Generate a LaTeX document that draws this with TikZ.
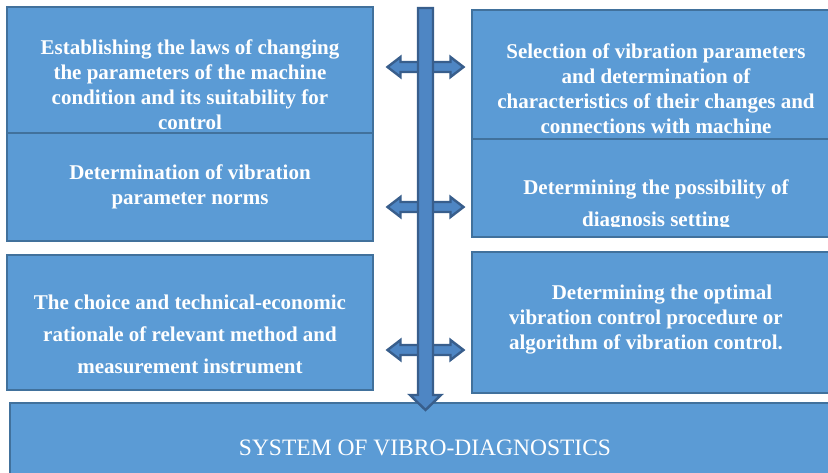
\documentclass[tikz,border=0pt]{standalone}
\usepackage{fontspec}
\setmainfont{Liberation Serif}
\definecolor{boxfill}{HTML}{5B9BD5}
\definecolor{boxline}{HTML}{41719C}
\definecolor{arrfill}{HTML}{4E86C4}
\definecolor{arrline}{HTML}{385E8C}
\begin{document}
\begin{tikzpicture}[x=1pt,y=-1pt,
  box/.style={draw=boxline, fill=boxfill, line width=2pt, inner sep=0pt,
    minimum width=#1, minimum height=0pt},
  boxL/.style={box, minimum width=366pt},
  boxR/.style={box, minimum width=368pt},
  label/.style={text=white, font=\bfseries\fontsize{21}{25}\selectfont, align=center, inner sep=0pt},
  wide/.style={label, font=\bfseries\fontsize{21}{32}\selectfont},
  blockarrow/.style={fill=arrfill, draw=arrline, line width=2.4pt, line join=miter},
  dblarr/.pic={
    \path[blockarrow] (-38,0) -- (-25,-10) -- (-25,-5) -- (25,-5) -- (25,-10)
      -- (38,0) -- (25,10) -- (25,5) -- (-25,5) -- (-25,10) -- cycle;
  }]
\useasboundingbox (0,0) rectangle (828,472);
\begin{scope}
\clip (0,0) rectangle (828,472);
% left column
\node[boxL, minimum height=126pt] (L1) at (190,70) {};
\node[boxL, minimum height=108pt] (L2) at (190,187) {};
\node[boxL, minimum height=135pt] (L3) at (190,322.5) {};
% right column
\node[boxR, minimum height=129pt] (R1) at (656,74.5) {};
\node[boxR, minimum height=98pt]  (R2) at (656,188) {};
\node[boxR, minimum height=141pt] (R3) at (656,322.5) {};
% result
\node[box, minimum width=830pt, minimum height=77pt] (S) at (425,441.5) {};
\end{scope}

% links between the columns
\coordinate (a1) at (425.5,67);
\coordinate (a2) at (425.5,207);
\coordinate (a3) at (425.5,350);
\pic at (a1) {dblarr};
\pic at (a2) {dblarr};
\pic at (a3) {dblarr};

% main flow down to the system
\path[blockarrow] (418,8) -- (433,8) -- (433,395) -- (441,395) -- (425.5,410)
  -- (410,395) -- (418,395) -- cycle;

% texts
\node[label] (t1) at (190,84.5) {Establishing the laws of changing\\the parameters of the machine\\condition and its suitability for\\control};
\node[label] (t2) at (190,187) {Determination of vibration\\parameter norms};
\node[wide] (t3) at (190,334.5) {The choice and technical-economic\\rationale of relevant method and\\measurement instrument};
\node[label] (t4) at (656,88.5) {Selection of vibration parameters\\and determination of\\characteristics of their changes and\\connections with machine};
\begin{scope}
\clip (472,139) rectangle (828,226);
\node[wide] (t5) at (656,205.5) {Determining the possibility of\\diagnosis setting};
\end{scope}
\node[label] (t6) at (646,320) {\hspace*{32pt}Determining the optimal\\vibration control procedure or\\algorithm of vibration control.};
\node[text=white, font=\fontsize{23.5}{28}\selectfont, inner sep=0pt] (t7) at (425,447.5) {SYSTEM OF VIBRO-DIAGNOSTICS};
\end{tikzpicture}
\end{document}
